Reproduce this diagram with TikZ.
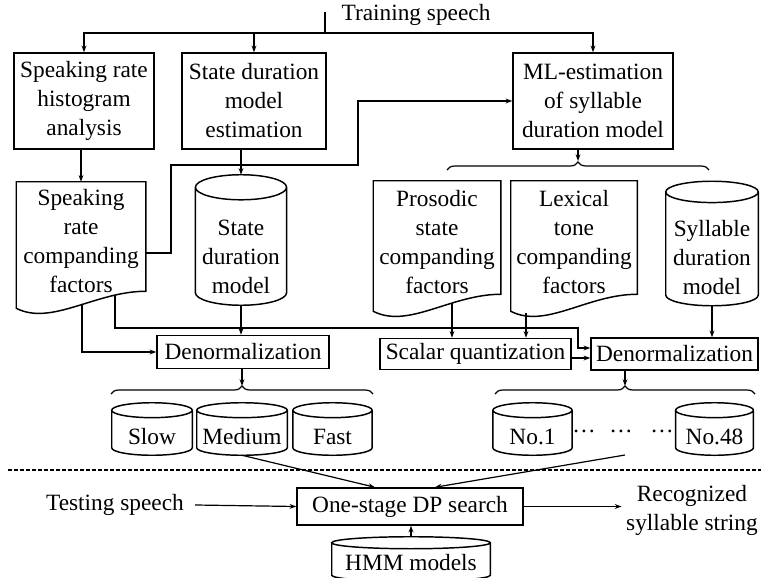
\documentclass[tikz,border=0pt]{standalone}
\usepackage{fontspec}
\setmainfont{Liberation Serif}
\usetikzlibrary{arrows.meta,calc,decorations.pathreplacing}

\tikzset{
  boxline/.style={line width=1.1pt},
  procbox/.style={draw, boxline, align=center, inner sep=1pt},
  docnode/.style={align=center, inner sep=0pt},
  drum/.style={inner sep=0pt},
  drumtext/.style={align=center, inner sep=0pt},
  arr/.style={line width=0.9pt, -{Stealth[length=5pt,width=3.6pt]}},
  link/.style={line width=0.9pt},
  splitbrace/.style={line width=0.9pt, decorate, decoration={brace, amplitude=6pt}},
}

% outline of a document box with a wavy bottom edge
\newcommand{\docshape}[1]{%
  \draw[boxline] (#1.north west) -- (#1.north east) -- ($(#1.south east)+(0,-9)$)
    .. controls +(-50,0) and +(35,18) .. ($(#1.south west)+(0,8)$) -- cycle;}
% outline of a database drum, #2 = radius of the end ellipses
\newcommand{\drumshape}[2]{%
  \draw[boxline] let \p1=($(#1.north east)-(#1.north west)$) in
    ([yshift=-#2]#1.north west) -- ([yshift=#2]#1.south west)
    arc[start angle=180, end angle=360, x radius=0.5*\x1, y radius=#2]
    -- ([yshift=-#2]#1.north east)
    arc[start angle=0, end angle=360, x radius=0.5*\x1, y radius=#2];}

\begin{document}
\begin{tikzpicture}[x=0.75pt, y=-0.75pt, every node/.style={font=\fontsize{17.5}{21.75}\selectfont}]
\useasboundingbox (0,0) rectangle (761,578);

% training part
\node (train) at (416,15) {Training speech};
\coordinate (ttop) at (325,12);
\coordinate (tsplit) at (325,33);
\node[procbox, minimum width=105pt, minimum height=72pt] (hist) at (84,101) {Speaking rate\\histogram\\analysis};
\node[procbox, minimum width=108pt, minimum height=72pt] (sdest) at (254,101) {State duration\\model\\estimation};
\node[procbox, minimum width=120pt, minimum height=72pt] (mlest) at (593,101) {ML-estimation\\of syllable\\duration model};
\draw[link] (ttop) -- (tsplit);
\draw[arr] (tsplit) -| (hist.north);
\draw[arr] (tsplit) -| (sdest.north);
\draw[arr] (tsplit) -| (mlest.north);

\node[docnode, minimum width=96.75pt, minimum height=88.5pt] (srcf) at (81,241) {Speaking\\rate\\companding\\factors};
\docshape{srcf}
\draw[arr] (hist.south -| srcf.north) -- (srcf.north);

\node[drum, minimum width=68pt, minimum height=97.5pt,
  label={[drumtext, yshift=-12.75pt]center:State\\duration\\model}] (sdm) at (241,240) {};
\drumshape{sdm}{9.4pt}
\draw[arr] (sdest.south -| sdm.north) -- (sdm.north);

\draw[arr] ([yshift=-9pt]srcf.east) -| (171,165) -| (358,101) -- (mlest.west);

\coordinate (b1l) at (447,170);
\coordinate (b1r) at (709,170);
\coordinate (b1tip) at (578,161);
\draw[splitbrace] (b1l) -- (b1r);
\draw[arr] (mlest.south -| b1tip) -- (b1tip);

\node[docnode, minimum width=95.25pt, minimum height=91.5pt] (pros) at (437,242) {Prosodic\\state\\companding\\factors};
\docshape{pros}
\node[docnode, minimum width=94.5pt, minimum height=91.5pt] (lex) at (574,242) {Lexical\\tone\\companding\\factors};
\docshape{lex}
\node[drum, minimum width=69pt, minimum height=93pt,
  label={[drumtext, yshift=-10.5pt]center:Syllable\\duration\\model}] (sdur) at (712,243.5) {};
\drumshape{sdur}{8pt}

% denormalization
\node[procbox, minimum width=129pt, minimum height=24.75pt] (den1) at (243,352) {Denormalization};
\node[procbox, minimum width=143.25pt, minimum height=23.25pt] (scal) at (475.5,354) {Scalar quantization};
\node[procbox, minimum width=125.25pt, minimum height=24pt] (den2) at (674.5,354) {Denormalization};

\draw[arr] (sdm.south) -- (sdm.south |- den1.north);
\draw[arr] ($(srcf.south)+(1,4)$) |- (den1.west);
\coordinate (rbend) at (578,328);
\draw[arr] ($(srcf.south)+(34,-5)$) |- (rbend) |- ([yshift=4.5pt]den2.west);
\draw[arr] ([xshift=11.25pt]pros.south) -- ([xshift=11.25pt]pros.south |- scal.north);
\draw[arr] ([xshift=-36pt,yshift=-7.5pt]lex.south) -- ([xshift=-36pt]lex.south |- scal.north);
\draw[arr] (sdur.south) -- (sdur.south |- den2.north);
\draw[arr] ([yshift=-3pt]scal.east) -- ([yshift=-3pt]den2.west);

% rate dependent models
\coordinate (b2l) at (111,394);
\coordinate (b2r) at (373,394);
\coordinate (b2tip) at (242,386);
\draw[splitbrace] (b2l) -- (b2r);
\draw[arr] (den1.south -| b2tip) -- (b2tip);
\node[drum, minimum width=60pt, minimum height=39pt,
  label={[drumtext, yshift=-6pt]center:Slow}] (slow) at (152,429) {};
\drumshape{slow}{5.6pt}
\node[drum, minimum width=67.5pt, minimum height=39pt,
  label={[drumtext, yshift=-6pt]center:Medium}] (med) at (242,429) {};
\drumshape{med}{5.6pt}
\node[drum, minimum width=59pt, minimum height=39pt,
  label={[drumtext, yshift=-6pt]center:Fast}] (fast) at (332.5,429) {};
\drumshape{fast}{5.6pt}

\coordinate (b3l) at (495,394);
\coordinate (b3r) at (755,394);
\coordinate (b3tip) at (625,386);
\draw[splitbrace] (b3l) -- (b3r);
\draw[arr] (den2.south -| b3tip) -- (b3tip);
\node[drum, minimum width=59pt, minimum height=39pt,
  label={[drumtext, yshift=-6pt]center:No.1}] (no1) at (532.5,429) {};
\drumshape{no1}{5.6pt}
\node[drum, minimum width=58pt, minimum height=39pt,
  label={[drumtext, yshift=-6pt]center:No.48}] (no48) at (714.5,429) {};
\drumshape{no48}{5.6pt}
\node (dotsa) at (584,431) {\dots};
\node (dotsb) at (621,431) {\dots};
\node (dotsc) at (662,431) {\dots};

% testing part
\coordinate (sepl) at (8,470);
\coordinate (sepr) at (761,470);
\draw[line width=0.8pt, dash pattern=on 3pt off 1.5pt] (sepl) -- (sepr);

\node[procbox, minimum width=169.5pt, minimum height=27.75pt] (dp) at (410,506.5) {One-stage DP search};
\node (test) at (115,505) {Testing speech};
\node[align=center] (recog) at (692,510) {Recognized\\syllable string};
\node[drum, minimum width=118.5pt, minimum height=33pt,
  label={[drumtext, yshift=-3pt]center:HMM models}] (hmm) at (411,559) {};
\drumshape{hmm}{4.5pt}
\coordinate (setbot) at (625,455);

\draw[arr] (med.south) -- ([xshift=-26.25pt]dp.north);
\draw[arr] (setbot) -- ([xshift=18.75pt]dp.north);
\draw[arr] ([xshift=5pt]test.east) -- (dp.west);
\draw[arr] (dp.east) -- (dp.east -| recog.west);
\draw[arr] (hmm.north) -- (hmm.north |- dp.south);
\end{tikzpicture}
\end{document}
